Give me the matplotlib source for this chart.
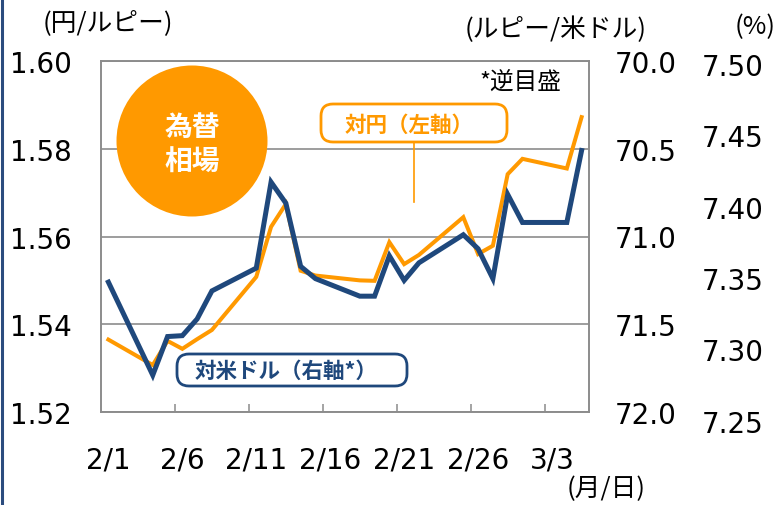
import matplotlib
matplotlib.use('Agg')
import matplotlib.pyplot as plt
import pandas as pd
from matplotlib.patches import FancyBboxPatch, Ellipse
from matplotlib.lines import Line2D
from matplotlib.transforms import IdentityTransform

# ---------------- data ----------------
dates = ['2019-02-01', '2019-02-04', '2019-02-05', '2019-02-06', '2019-02-07',
         '2019-02-08', '2019-02-11', '2019-02-12', '2019-02-13', '2019-02-14',
         '2019-02-15', '2019-02-18', '2019-02-19', '2019-02-20', '2019-02-21',
         '2019-02-22', '2019-02-25', '2019-02-26', '2019-02-27', '2019-02-28',
         '2019-03-01', '2019-03-04', '2019-03-05']
jpy_inr = [1.5365, 1.5307, 1.5362, 1.5344, 1.5366,
           1.5387, 1.5508, 1.5622, 1.5674, 1.5522,
           1.5511, 1.5500, 1.5499, 1.5587, 1.5537,
           1.5558, 1.5644, 1.5560, 1.5579, 1.5742,
           1.5777, 1.5755, 1.5872]
usd_inr = [71.26, 71.79, 71.57, 71.565, 71.47,
           71.31, 71.18, 70.69, 70.81, 71.17,
           71.24, 71.34, 71.34, 71.11, 71.25,
           71.15, 70.99, 71.07, 71.24, 70.76,
           70.92, 70.92, 70.51]
xtick_labels = ['2/1', '2/6', '2/11', '2/16', '2/21', '2/26', '3/3']
left_ticks = [1.52, 1.54, 1.56, 1.58, 1.60]
right_ticks = [70.0, 70.5, 71.0, 71.5, 72.0]
pct_ticks = [7.25, 7.30, 7.35, 7.40, 7.45, 7.50]

ORANGE = '#FF9900'
NAVY = '#1F487C'
GRAY = '#8C8C8C'
JP = ['Noto Sans CJK JP', 'DejaVu Sans']
NUM = 'DejaVu Sans'

W, H = 781, 506
fig = plt.figure(figsize=(W / 100, H / 100), dpi=100)
fig.patch.set_facecolor('white')


def fx(x):
    return x / W


def fy(y):
    return 1 - y / H


# ---------------- main axes ----------------
ax = fig.add_axes([fx(101), fy(413), fx(589) - fx(101), fy(62) - fy(413)])
d = pd.to_datetime(dates)
xd = (d - d[0]).days.values

ax.plot(xd, jpy_inr, color=ORANGE, lw=2.9, solid_joinstyle='miter', zorder=3)
ax.set_xlim(-0.5, 32.5)
ax.set_ylim(left_ticks[0], left_ticks[-1])
ax.set_yticks(left_ticks)
ax.set_yticklabels([f'{v:.2f}' for v in left_ticks], fontsize=20, family=NUM)
ax.tick_params(axis='y', length=0, pad=21)
ax.grid(axis='y', color=GRAY, lw=1.2)
ax.set_axisbelow(True)

major = [0, 5, 10, 15, 20, 25, 30]
ax.set_xticks(major)
ax.set_xticklabels(xtick_labels, fontsize=20, family=NUM)
ax.set_xticks([4.5, 9.5, 14.5, 19.5, 24.5, 29.5], minor=True)
ax.tick_params(axis='x', which='major', length=0, pad=24)
ax.tick_params(axis='x', which='minor', direction='in', length=6, width=1.1, color=GRAY)
for s in ax.spines.values():
    s.set_color(GRAY)
    s.set_linewidth(1.2)

ax2 = ax.twinx()
ax2.plot(xd, usd_inr, color=NAVY, lw=3.6, solid_joinstyle='miter', zorder=4)
ax2.set_ylim(right_ticks[-1], right_ticks[0])
ax2.set_yticks(right_ticks)
ax2.set_yticklabels([f'{v:.1f}' for v in right_ticks], fontsize=20, family=NUM)
ax2.tick_params(axis='y', length=0, pad=18.5)
for s in ax2.spines.values():
    s.set_color(GRAY)
    s.set_linewidth(1.2)

# third (percent) scale, labels only
ax3 = fig.add_axes([fx(589), fy(421.7), fx(695) - fx(589), fy(65) - fy(421.7)])
ax3.set_ylim(pct_ticks[0], pct_ticks[-1])
ax3.set_yticks(pct_ticks)
ax3.set_yticklabels([f'{v:.2f}' for v in pct_ticks], fontsize=20, family=NUM)
ax3.yaxis.tick_right()
ax3.tick_params(axis='y', length=0, pad=4.5)
ax3.xaxis.set_visible(False)
for s in ax3.spines.values():
    s.set_visible(False)
ax3.patch.set_visible(False)

# ---------------- decorations ----------------
I = IdentityTransform()

circ = Ellipse((192, H - 142), 151, 151, transform=I, fc=ORANGE, ec='none', zorder=5)
fig.add_artist(circ)
fig.text(fx(192), fy(128), '為替', ha='center', va='center', color='white',
         fontsize=20, fontweight='bold', family=JP, zorder=6)
fig.text(fx(192), fy(163), '相場', ha='center', va='center', color='white',
         fontsize=20, fontweight='bold', family=JP, zorder=6)

box1 = FancyBboxPatch((321, H - 143), 186, 38, boxstyle='round,pad=0,rounding_size=12',
                      transform=I, fc='white', ec=ORANGE, lw=2.0, zorder=5)
fig.add_artist(box1)
fig.add_artist(Line2D([414, 414], [H - 143, H - 203], transform=I, color=ORANGE,
                      lw=1.2, zorder=5))
fig.text(fx(409), fy(125), '対円（左軸）', ha='center', va='center', color=ORANGE,
         fontsize=15.5, fontweight='bold', family=JP, zorder=6)

box2 = FancyBboxPatch((177, H - 387), 230, 32, boxstyle='round,pad=0,rounding_size=12',
                      transform=I, fc='white', ec=NAVY, lw=2.0, zorder=5)
fig.add_artist(box2)
fig.text(fx(286), fy(371), '対米ドル（右軸*）', ha='center', va='center', color=NAVY,
         fontsize=15.5, fontweight='bold', family=JP, zorder=6)

fig.text(fx(108), fy(23), '(円/ルピー)', ha='center', va='center', fontsize=18.5, family=JP)
fig.text(fx(556), fy(30), '(ルピー/米ドル)', ha='center', va='center', fontsize=18.5, family=JP)
fig.text(fx(755), fy(27), '(%)', ha='center', va='center', fontsize=18.5, family=JP)
fig.text(fx(520), fy(83), '*逆目盛', ha='center', va='center', fontsize=17, family=JP)
fig.text(fx(606), fy(489), '(月/日)', ha='center', va='center', fontsize=18.5, family=JP)

fig.add_artist(Line2D([1.5, 1.5], [0, H], transform=I, color='#2B4C7E', lw=2.2))

fig.savefig('out.png', dpi=100)
